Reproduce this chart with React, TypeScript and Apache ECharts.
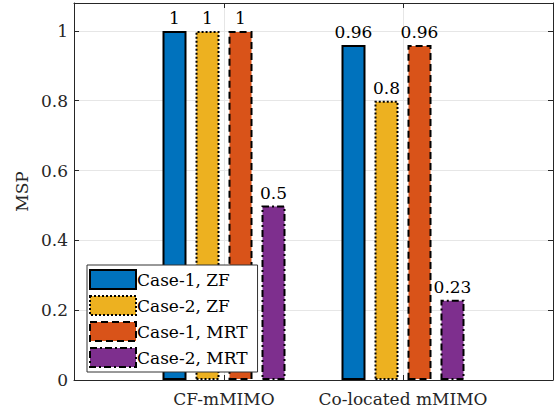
import React, { useEffect, useRef } from "react";
import * as echarts from "echarts";

const categories = ["CF-mMIMO", "Co-located mMIMO"];
const seriesNames = ["Case-1, ZF", "Case-2, ZF", "Case-1, MRT", "Case-2, MRT"];
const case1ZF = [1, 0.96];
const case2ZF = [1, 0.8];
const case1MRT = [1, 0.96];
const case2MRT = [0.5, 0.23];
const yTicks = [0, 0.2, 0.4, 0.6, 0.8, 1];

const colors = ["#0072BD", "#EDB120", "#D95319", "#7E2F8E"];
const dashes: any[] = ["solid", [2, 2], [7, 4], [7, 3, 2, 3]];
const FONT = "DejaVu Serif";
const FS = 17;

export default function App() {
  const ref = useRef<HTMLDivElement>(null);
  useEffect(() => {
    const chart = echarts.init(ref.current!, undefined, { renderer: "svg" });
    const allData = [case1ZF, case2ZF, case1MRT, case2MRT];
    const series = allData.map((vals, i) => ({
      name: seriesNames[i],
      type: "bar",
      barWidth: 24,
      barGap: "37.5%",
      data: vals.map((v, k) => [k + 1, v]),
      itemStyle: {
        color: colors[i],
        borderColor: "#000",
        borderWidth: 2,
        borderType: dashes[i],
      },
      label: {
        show: true,
        position: "top",
        distance: 4,
        fontFamily: FONT,
        fontSize: FS,
        color: "#000",
        formatter: (p: any) => String(p.value[1]),
      },
    }));
    chart.setOption({
      animation: false,
      grid: { left: 74, right: 4, top: 3, bottom: 36 },
      legend: {
        orient: "vertical",
        left: 87,
        top: 265,
        itemWidth: 46,
        itemHeight: 19,
        itemGap: 5,
        padding: [4, 10, 4, 2],
        backgroundColor: "#fff",
        borderColor: "#333",
        borderWidth: 1,
        icon: "rect",
        textStyle: { fontFamily: FONT, fontSize: FS, color: "#000", padding: [0, 0, 0, -4] },
        data: seriesNames.map((n, i) => ({
          name: n,
          itemStyle: { color: colors[i], borderColor: "#000", borderWidth: 2, borderType: dashes[i] },
        })),
      },
      xAxis: [
        {
          type: "value",
          min: 0.162,
          max: 2.838,
          axisLine: { show: true, onZero: false, lineStyle: { color: "#262626" } },
          axisTick: { show: true, inside: true, length: 5, customValues: [1, 2], lineStyle: { color: "#262626" } },
          axisLabel: {
            customValues: [1, 2],
            formatter: (v: number) => categories[Math.round(v) - 1] ?? "",
            fontFamily: FONT,
            fontSize: FS,
            color: "#262626",
            margin: 10,
          },
          splitLine: { show: true, lineStyle: { color: "#e6e6e6" } },
        },
        {
          type: "value",
          position: "top",
          min: 0.162,
          max: 2.838,
          axisLine: { show: true, onZero: false, lineStyle: { color: "#262626" } },
          axisTick: { show: true, inside: true, length: 5, customValues: [1, 2], lineStyle: { color: "#262626" } },
          axisLabel: { show: false },
          splitLine: { show: false },
        },
      ],
      yAxis: [
        {
          type: "value",
          min: 0,
          max: 1.08,
          interval: 0.2,
          name: "MSP",
          nameLocation: "middle",
          nameGap: 31,
          nameTextStyle: { fontFamily: FONT, fontSize: FS, color: "#262626" },
          axisLine: { show: true, lineStyle: { color: "#262626" } },
          axisTick: { show: true, inside: true, length: 5, lineStyle: { color: "#262626" } },
          axisLabel: {
            showMaxLabel: false,
            fontFamily: FONT,
            fontSize: FS,
            color: "#262626",
            margin: 6,
            formatter: (v: number) => {
              const r = Math.round(v * 10) / 10;
              return yTicks.includes(r) && Math.abs(v - r) < 1e-6 ? String(r) : "";
            },
          },
          splitLine: { show: true, lineStyle: { color: "#e6e6e6" } },
        },
        {
          type: "value",
          position: "right",
          min: 0,
          max: 1.08,
          interval: 0.2,
          axisLine: { show: true, lineStyle: { color: "#262626" } },
          axisTick: { show: true, inside: true, length: 5, lineStyle: { color: "#262626" } },
          axisLabel: { show: false },
          splitLine: { show: false },
        },
      ],
      series,
    });
    return () => chart.dispose();
  }, []);
  return <div ref={ref} style={{ width: 557, height: 416, position: "absolute", left: 0, top: 0 }} />;
}
